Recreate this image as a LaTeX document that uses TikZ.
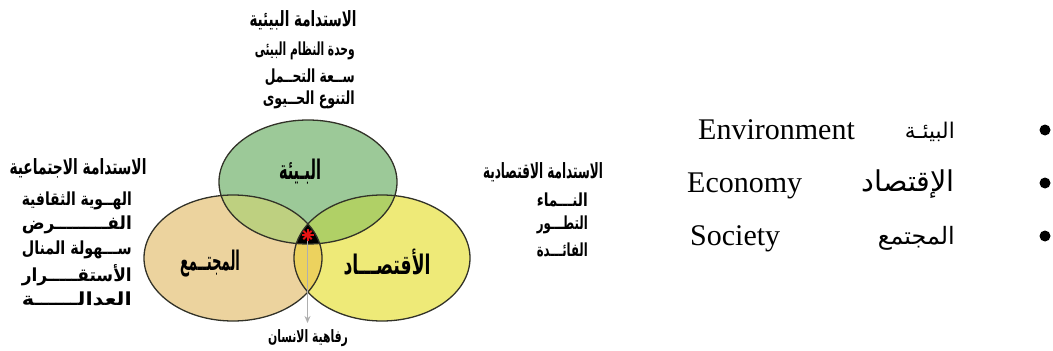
\documentclass[tikz,border=0pt]{standalone}
\usepackage{fontspec}
\usepackage{graphicx}
\setmainfont{Liberation Serif}
\newfontfamily\arabicfont[Script=Arabic]{DejaVu Sans}
\TeXXeTstate=1
\usetikzlibrary{arrows.meta,calc}
\newcommand{\artxt}[1]{{\arabicfont\beginR #1\endR}}
\newcommand{\artxtb}[1]{{\arabicfont\bfseries\beginR #1\endR}}
\newcommand{\fitw}[2]{\resizebox{#1}{\height}{#2}}
\definecolor{grnfill}{RGB}{156,201,152}
\definecolor{orgfill}{RGB}{236,211,158}
\definecolor{yelfill}{RGB}{238,234,120}
\definecolor{gofill}{RGB}{190,208,128}
\definecolor{gyfill}{RGB}{176,208,102}
\definecolor{oyfill}{RGB}{236,210,94}
\definecolor{edgecol}{RGB}{50,50,40}
\definecolor{arrowcol}{RGB}{175,175,175}
\definecolor{starred}{RGB}{230,20,20}
\tikzset{
  ttl/.style={inner sep=0pt, font=\fontsize{21}{21}\selectfont},
  itm/.style={inner sep=0pt, anchor=east, font=\fontsize{18}{18}\selectfont},
  lbl/.style={inner sep=0pt, font=\fontsize{27}{27}\selectfont},
  lst/.style={inner sep=0pt, font=\fontsize{30}{30}\selectfont},
  lstar/.style={inner sep=0pt, font=\fontsize{22}{22}\selectfont},
  rim/.style={draw=edgecol, line width=1.3pt},
}
\begin{document}
\begin{tikzpicture}[x=1pt,y=-1pt]
\useasboundingbox (0,0) rectangle (1053,351);
% base fills
\fill[orgfill] (233,258) ellipse [x radius=89, y radius=63];
\fill[yelfill] (382,258) ellipse [x radius=88, y radius=63];
\fill[grnfill] (308,182) ellipse [x radius=89, y radius=62];
% pairwise overlaps
\begin{scope}
  \clip (233,258) ellipse [x radius=89, y radius=63];
  \fill[oyfill] (382,258) ellipse [x radius=88, y radius=63];
  \fill[gofill] (308,182) ellipse [x radius=89, y radius=62];
\end{scope}
\begin{scope}
  \clip (382,258) ellipse [x radius=88, y radius=63];
  \fill[gyfill] (308,182) ellipse [x radius=89, y radius=62];
\end{scope}
\begin{scope}
  \clip (233,258) ellipse [x radius=89, y radius=63];
  \clip (382,258) ellipse [x radius=88, y radius=63];
  \fill[black] (308,182) ellipse [x radius=89, y radius=62];
\end{scope}
% outlines
\draw[rim] (233,258) ellipse [x radius=89, y radius=63];
\draw[rim] (382,258) ellipse [x radius=88, y radius=63];
\draw[rim] (308,182) ellipse [x radius=89, y radius=62];
% star and arrow
\node[inner sep=0pt, minimum size=12pt] (star) at (307.5,235) {};
\coordinate (tip) at (307.5,323);
\draw[arrowcol, line width=1.3pt, -{Stealth[length=7pt,width=6pt]}] (star.south) -- (tip);
\foreach \a in {0,45,90,135}
  \draw[starred, line width=2pt] ($(star.center)+(\a:6)$) -- ($(star.center)+(\a+180:6)$);
\node[inner sep=0pt, font=\fontsize{17}{17}\selectfont] (wellbeing) at (308,338) {\fitw{80pt}{\artxtb{رفاهية الانسان}}};
% ellipse labels
\node[lbl] (envlbl) at (300,172) {\fitw{42pt}{\artxtb{البـيئة}}};
\node[lbl] (soclbl) at (210,264) {\fitw{60pt}{\artxtb{المجتــمع}}};
\node[lbl] (ecolbl) at (387,262) {\fitw{87pt}{\artxtb{الأقتصـــاد}}};
% top block
\node[ttl] (toptitle) at (303,20) {\fitw{107pt}{\artxtb{الاستدامة البيئية}}};
\node[itm] (top1) at (355,51) {\fitw{100pt}{\artxtb{وحدة النظام البيئى}}};
\node[itm] (top2) at (355,77) {\fitw{90pt}{\artxtb{ســعة التحــمل}}};
\node[itm] (top3) at (355,100) {\fitw{92pt}{\artxtb{التنوع الحــيوى}}};
% left block
\node[ttl] (lefttitle) at (78,168) {\fitw{137pt}{\artxtb{الاستدامة الاجتماعية}}};
\node[itm] (left1) at (132,201) {\fitw{110pt}{\artxtb{الهــوية الثقافية}}};
\node[itm] (left2) at (132,225) {\fitw{110pt}{\artxtb{الفـــــــــرض}}};
\node[itm] (left3) at (132,250) {\fitw{110pt}{\artxtb{ســـهولة المنال}}};
\node[itm] (left4) at (132,275) {\fitw{110pt}{\artxtb{الأستقـــــرار}}};
\node[itm] (left5) at (132,299) {\fitw{110pt}{\artxtb{العدالــــــة}}};
% right block
\node[ttl] (righttitle) at (543,172) {\fitw{120pt}{\artxtb{الاستدامة الاقتصادية}}};
\node[itm] (right1) at (588,200) {\fitw{51pt}{\artxtb{النـــماء}}};
\node[itm] (right2) at (588,225) {\fitw{51pt}{\artxtb{التطـــور}}};
\node[itm] (right3) at (588,250) {\fitw{51pt}{\artxtb{الفائـــدة}}};
% bullet list
\foreach \yy in {130,183,236}
  \fill (1045,\yy) circle (5.5);
\node[lstar, anchor=base east] (ar1) at (955,138) {\resizebox{50pt}{!}{\artxt{البيئـة}}};
\node[lstar, anchor=base east] (ar2) at (955,191) {\resizebox{93pt}{!}{\artxt{الإقتصاد}}};
\node[lstar, anchor=base east] (ar3) at (955,244) {\resizebox{77pt}{!}{\artxt{المجتمع}}};
\node[lst, anchor=base west] (en1) at (698,139) {Environment};
\node[lst, anchor=base west] (en2) at (687,192) {Economy};
\node[lst, anchor=base west] (en3) at (690,245) {Society};
\end{tikzpicture}
\end{document}
